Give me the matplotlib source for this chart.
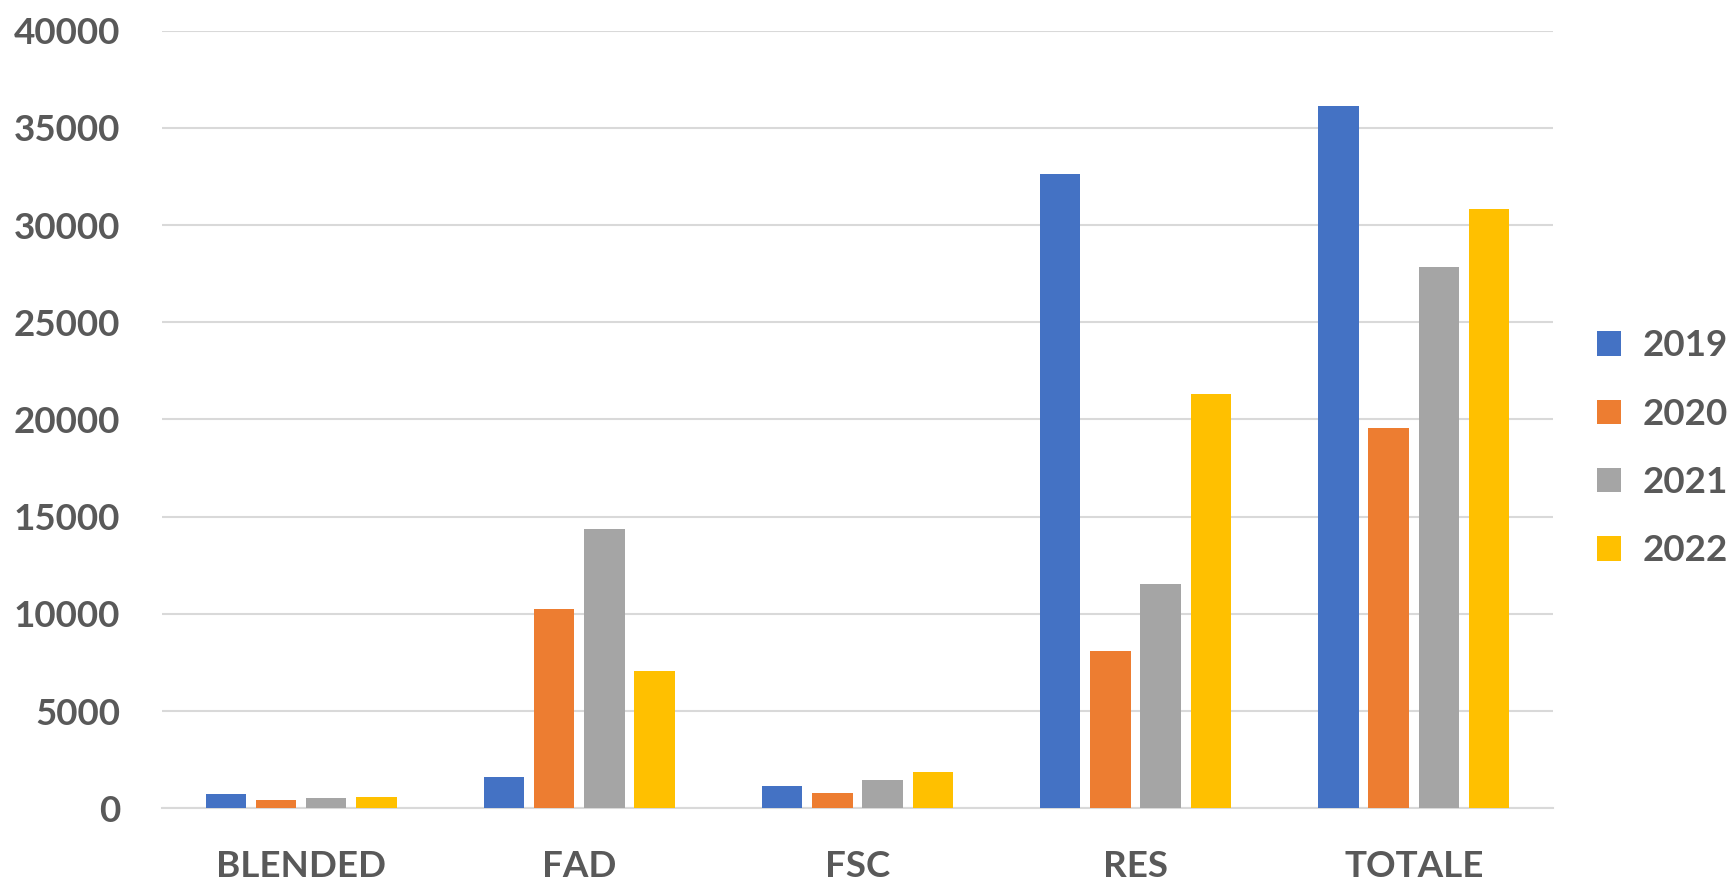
import matplotlib.pyplot as plt
import numpy as np

# Categorie e valori per anno
categorie = ['BLENDED', 'FAD', 'FSC', 'RES', 'TOTALE']
anni = ['2019', '2020', '2021', '2022']
valori_2019 = [720, 1610, 1150, 32630, 36130]
valori_2020 = [430, 10250, 790, 8090, 19580]
valori_2021 = [530, 14350, 1460, 11520, 27850]
valori_2022 = [570, 7050, 1870, 21330, 30810]

colori = ['#4472C4', '#ED7D31', '#A5A5A5', '#FFC000']
grigio_testo = '#595959'

plt.rcParams['font.family'] = ['Lato', 'DejaVu Sans']
plt.rcParams['font.weight'] = 'bold'

fig = plt.figure(figsize=(17.33, 8.81), dpi=100)
ax = fig.add_axes([0.0935, 0.0825, 0.8025, 0.8827])

x = np.arange(len(categorie))
passo = 0.1806
larghezza = 0.1454
serie = [valori_2019, valori_2020, valori_2021, valori_2022]
for j, (anno, valori) in enumerate(zip(anni, serie)):
    ax.bar(x + (j - 1.5) * passo, valori, width=larghezza, color=colori[j],
           label=anno, zorder=3)

ax.set_xlim(-0.5, len(categorie) - 0.5)
ax.set_ylim(0, 40000)
ax.set_yticks(range(0, 40001, 5000))
ax.set_xticks(x)
ax.set_xticklabels(categorie)

# Griglia orizzontale stile Excel
ax.grid(axis='y', color='#D9D9D9', linewidth=1.5, zorder=0)
for lato in ['top', 'right', 'left']:
    ax.spines[lato].set_visible(False)
ax.spines['bottom'].set_color('#D9D9D9')
ax.spines['bottom'].set_linewidth(1.5)

ax.tick_params(axis='y', length=0, pad=30, labelsize=26.5, labelcolor=grigio_testo)
ax.tick_params(axis='x', length=0, pad=30, labelsize=26.5, labelcolor=grigio_testo)

# Legenda a destra, posizionata in coordinate della figura
leg = fig.legend(loc='center left', bbox_to_anchor=(0.9215, 0.491),
                 bbox_transform=fig.transFigure, frameon=False,
                 fontsize=26.5, handlelength=0.65, handleheight=0.65,
                 handletextpad=0.6, labelspacing=0.96,
                 borderpad=0, borderaxespad=0)
for t in leg.get_texts():
    t.set_color(grigio_testo)

fig.savefig('out.png', dpi=100)
